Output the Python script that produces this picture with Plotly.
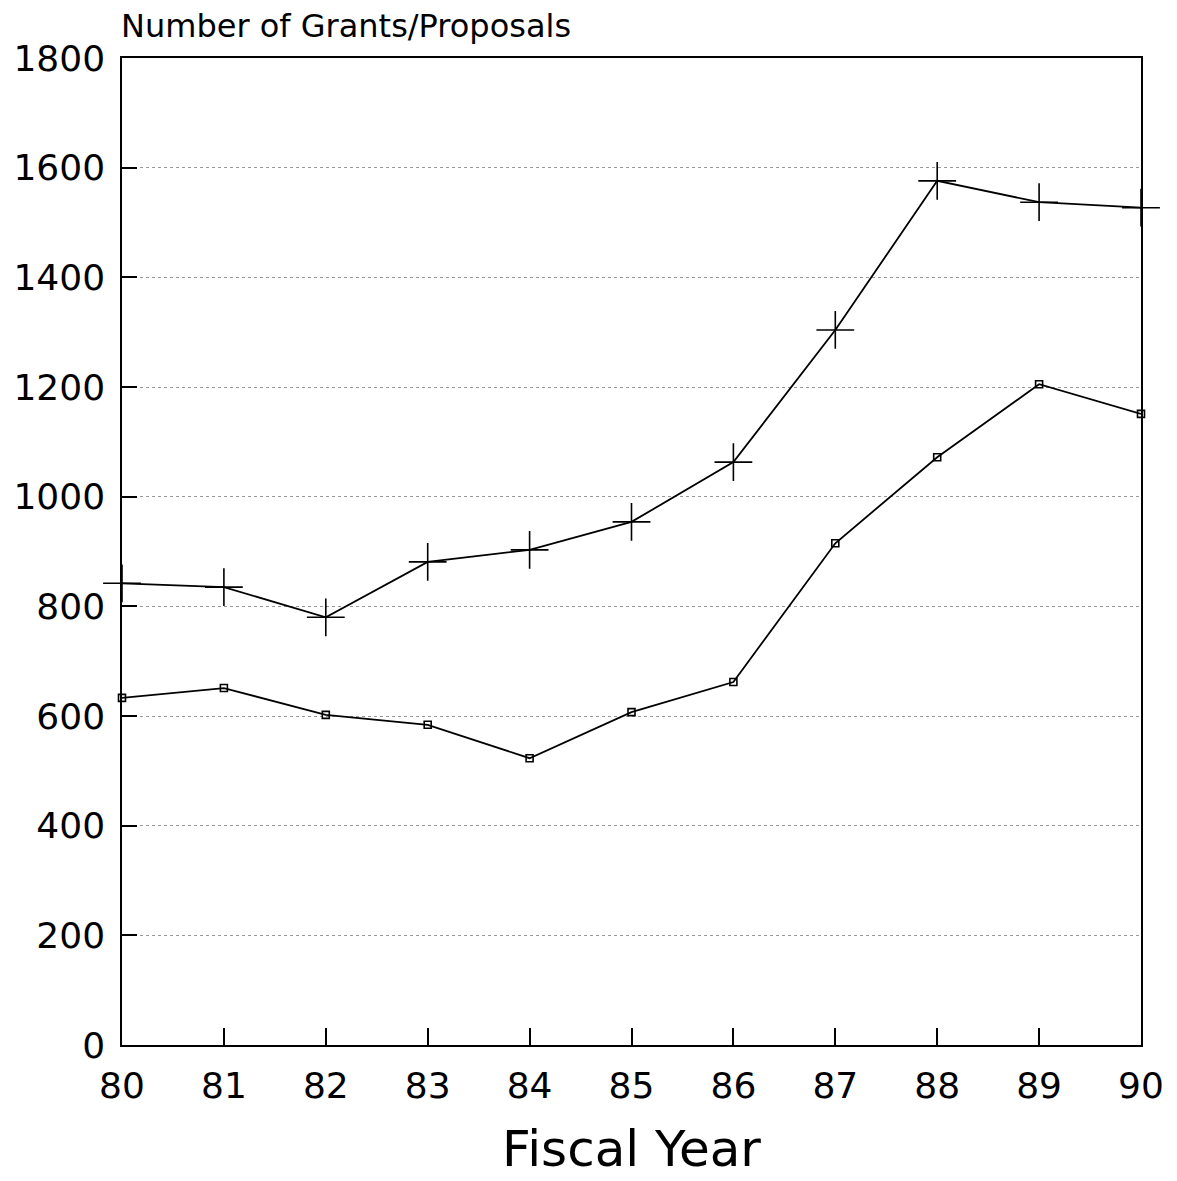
import plotly.graph_objects as go

years = [80, 81, 82, 83, 84, 85, 86, 87, 88, 89, 90]
proposals = [842, 835, 780, 881, 903, 954, 1063, 1304, 1576, 1537, 1527]
grants = [633, 651, 602, 584, 523, 607, 662, 915, 1072, 1205, 1151]
y_ticks = [0, 200, 400, 600, 800, 1000, 1200, 1400, 1600, 1800]

FONT = "DejaVu Sans, Arial, sans-serif"

fig = go.Figure()
fig.add_trace(go.Scatter(
    x=years, y=proposals, mode="lines+markers",
    line=dict(color="black", width=1.8),
    marker=dict(symbol="cross-thin", size=27, line=dict(color="black", width=1.6)),
    cliponaxis=False, showlegend=False))
fig.add_trace(go.Scatter(
    x=years, y=grants, mode="lines+markers",
    line=dict(color="black", width=1.8),
    marker=dict(symbol="square-open", size=7, color="black", line=dict(color="black", width=1.6)),
    cliponaxis=False, showlegend=False))

fig.update_layout(
    width=1177, height=1181,
    margin=dict(l=114, r=44, t=50, b=144, autoexpand=False),
    paper_bgcolor="white", plot_bgcolor="white",
    font=dict(family=FONT, color="black"),
    xaxis=dict(
        range=[80, 90], tickvals=years, ticktext=[str(y) for y in years],
        ticks="inside", ticklen=17, tickwidth=1.5, tickcolor="black",
        showline=True, linecolor="black", linewidth=1.5, mirror=True,
        showgrid=False, zeroline=False, automargin=False,
        tickfont=dict(size=36, family=FONT),
        ticklabelstandoff=8,
        title=dict(text="Fiscal Year", font=dict(size=50, family=FONT), standoff=26),
    ),
    yaxis=dict(
        range=[0, 1800], tickvals=y_ticks,
        ticks="inside", ticklen=15, tickwidth=1.5, tickcolor="black",
        showline=True, linecolor="black", linewidth=1.5, mirror=True,
        showgrid=True, gridcolor="#999999", griddash="dot", gridwidth=1,
        zeroline=False, automargin=False,
        tickfont=dict(size=36, family=FONT),
        ticklabelstandoff=8,
    ),
    annotations=[dict(
        text="Number of Grants/Proposals", xref="paper", yref="paper",
        x=0, y=1, xanchor="left", yanchor="middle", yshift=32, xshift=-3,
        showarrow=False, font=dict(size=32, family=FONT, color="black"))],
)

fig.write_html("out.html")
